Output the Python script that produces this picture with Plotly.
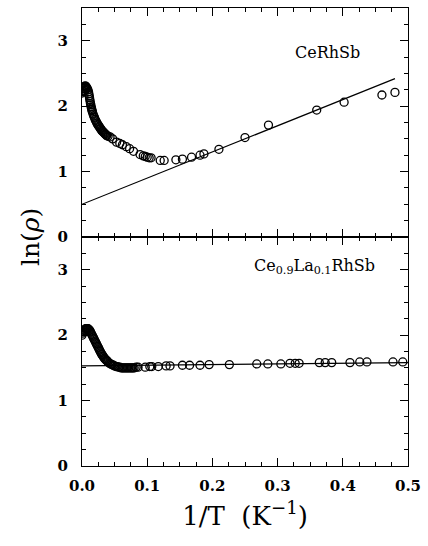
import plotly.graph_objects as go
from plotly.subplots import make_subplots

# CeRhSb: ln(rho) vs 1/T
ce_x = [0.000, 0.001, 0.002, 0.002, 0.003, 0.004, 0.004, 0.005, 0.006, 0.006,
        0.007, 0.008, 0.009, 0.010, 0.0105, 0.011, 0.0115, 0.012, 0.0125, 0.013,
        0.0135, 0.014, 0.0145, 0.015, 0.0155, 0.016, 0.017, 0.018, 0.019, 0.020,
        0.021, 0.022, 0.023, 0.024, 0.025, 0.026, 0.027, 0.028, 0.029, 0.030,
        0.031, 0.032, 0.033, 0.034, 0.035, 0.036, 0.037, 0.038, 0.040,
        0.043, 0.047, 0.053, 0.058, 0.062, 0.068, 0.073, 0.079, 0.089, 0.094,
        0.097, 0.100, 0.103, 0.106, 0.120, 0.126, 0.144, 0.154, 0.168, 0.181,
        0.187, 0.210, 0.250, 0.286, 0.360, 0.402, 0.460, 0.480]
ce_y = [2.20, 2.24, 2.27, 2.22, 2.29, 2.30, 2.24, 2.31, 2.30, 2.26,
        2.29, 2.27, 2.25, 2.22, 2.19, 2.16, 2.13, 2.10, 2.07, 2.04,
        2.02, 1.99, 1.97, 1.95, 1.93, 1.91, 1.88, 1.85, 1.83, 1.80,
        1.78, 1.76, 1.74, 1.72, 1.71, 1.69, 1.68, 1.66, 1.65, 1.63,
        1.62, 1.61, 1.60, 1.59, 1.58, 1.57, 1.56, 1.55, 1.54,
        1.53, 1.50, 1.45, 1.43, 1.41, 1.38, 1.35, 1.31, 1.26, 1.24,
        1.23, 1.22, 1.21, 1.21, 1.17, 1.17, 1.18, 1.19, 1.22, 1.25,
        1.27, 1.34, 1.52, 1.71, 1.94, 2.06, 2.17, 2.21]
ce_fit_x = [0.0, 0.48]
ce_fit_y = [0.50, 2.42]

# Ce0.9La0.1RhSb
la_x = [0.000, 0.001, 0.002, 0.003, 0.004, 0.005, 0.006, 0.007, 0.008, 0.009,
        0.010, 0.011, 0.012, 0.013, 0.014, 0.015, 0.016, 0.017, 0.018, 0.019,
        0.020, 0.021, 0.022, 0.023, 0.024, 0.025, 0.026, 0.027, 0.028, 0.029,
        0.030, 0.031, 0.032, 0.033, 0.034, 0.035, 0.036, 0.037, 0.038, 0.039,
        0.040, 0.042, 0.044, 0.046, 0.048, 0.050, 0.052, 0.054, 0.056, 0.058,
        0.060, 0.062, 0.064, 0.066, 0.068, 0.070, 0.072, 0.074, 0.076, 0.078,
        0.080, 0.083, 0.086,
        0.097, 0.104, 0.107, 0.117, 0.129, 0.135, 0.154, 0.165, 0.181, 0.195,
        0.226, 0.268, 0.285, 0.305, 0.319, 0.327, 0.333, 0.364, 0.373, 0.383,
        0.411, 0.426, 0.437, 0.477, 0.492]
la_y = [2.00, 2.03, 2.05, 2.07, 2.08, 2.09, 2.10, 2.10, 2.10, 2.10,
        2.09, 2.08, 2.07, 2.05, 2.03, 2.01, 1.99, 1.97, 1.95, 1.93,
        1.91, 1.89, 1.87, 1.85, 1.83, 1.81, 1.79, 1.77, 1.75, 1.73,
        1.71, 1.70, 1.68, 1.67, 1.65, 1.64, 1.63, 1.62, 1.61, 1.60,
        1.59, 1.57, 1.56, 1.55, 1.54, 1.53, 1.52, 1.52, 1.51, 1.51,
        1.50, 1.50, 1.50, 1.50, 1.50, 1.50, 1.50, 1.50, 1.50, 1.50,
        1.50, 1.51, 1.51,
        1.51, 1.52, 1.52, 1.52, 1.53, 1.53, 1.54, 1.54, 1.54, 1.55,
        1.55, 1.56, 1.56, 1.56, 1.57, 1.57, 1.57, 1.58, 1.58, 1.58,
        1.58, 1.59, 1.59, 1.59, 1.59]
la_fit_x = [0.0, 0.5]
la_fit_y = [1.53, 1.58]

x_ticks = [0.0, 0.1, 0.2, 0.3, 0.4, 0.5]
x_tick_text = ["0.0", "0.1", "0.2", "0.3", "0.4", "0.5"]
y_ticks = [0, 1, 2, 3]

SERIF = "DejaVu Serif"

fig = make_subplots(rows=2, cols=1, shared_xaxes=True, vertical_spacing=0)

marker = dict(symbol="circle-open", size=8, color="black", line=dict(width=1.3, color="black"))
line = dict(color="black", width=1.2)

fig.add_trace(go.Scatter(x=ce_fit_x, y=ce_fit_y, mode="lines", line=line, showlegend=False), row=1, col=1)
fig.add_trace(go.Scatter(x=ce_x, y=ce_y, mode="markers", marker=marker, showlegend=False), row=1, col=1)
fig.add_trace(go.Scatter(x=la_fit_x, y=la_fit_y, mode="lines", line=line, showlegend=False), row=2, col=1)
fig.add_trace(go.Scatter(x=la_x, y=la_y, mode="markers", marker=marker, showlegend=False), row=2, col=1)

tickfont = dict(family=SERIF, size=15, color="black", weight="bold")
axis_common = dict(
    showline=True, linecolor="black", linewidth=1.2, mirror="ticks",
    ticks="inside", ticklen=8, tickwidth=1.2, tickcolor="black",
    showgrid=False, zeroline=False, tickfont=tickfont,
)

for r in (1, 2):
    fig.update_xaxes(
        range=[0, 0.5], tickvals=x_ticks, ticktext=x_tick_text, ticklabelstandoff=6,
        minor=dict(dtick=0.025, ticks="inside", ticklen=4, tickwidth=1, tickcolor="black", showgrid=False),
        **axis_common, row=r, col=1,
    )
    fig.update_yaxes(
        range=[0, 3.5], tickvals=y_ticks, ticklabelstandoff=10,
        minor=dict(dtick=0.25, ticks="inside", ticklen=4, tickwidth=1, tickcolor="black", showgrid=False),
        **axis_common, row=r, col=1,
    )

fig.update_xaxes(showticklabels=False, row=1, col=1)
fig.update_xaxes(
    title=dict(text="1/T  (K<sup>−1</sup>)", font=dict(family=SERIF, size=26, color="black"), standoff=12),
    row=2, col=1,
)

fig.add_annotation(text="CeRhSb", x=0.376, y=2.82, xref="x", yref="y", showarrow=False,
                   font=dict(family=SERIF, size=16, color="black"))
fig.add_annotation(text="Ce<sub>0.9</sub>La<sub>0.1</sub>RhSb", x=0.356, y=3.05, xref="x2", yref="y2",
                   showarrow=False, font=dict(family=SERIF, size=16, color="black"))
fig.add_annotation(text="ln(<i>ρ</i>)", x=30, y=0.5, xref="paper", yref="paper", xanchor="center",
                   textangle=-90, showarrow=False, font=dict(family=SERIF, size=25, color="black"))
fig.layout.annotations[-1].update(x=(30 - 82) / (428 - 82 - 20))

fig.update_layout(
    width=428, height=546,
    margin=dict(l=82, r=20, t=8, b=80),
    paper_bgcolor="white", plot_bgcolor="white",
)

fig.write_html("out.html")
